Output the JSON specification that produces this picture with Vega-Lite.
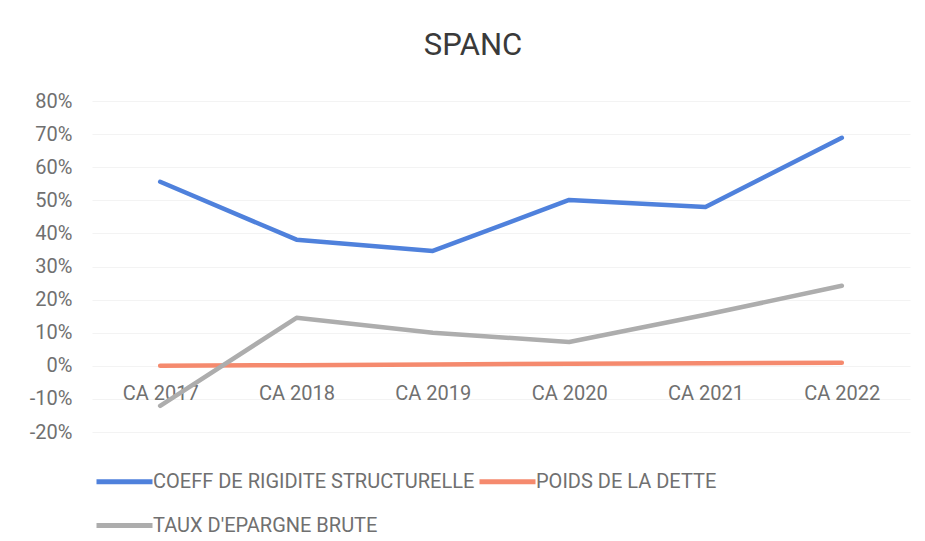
{
  "$schema": "https://vega.github.io/schema/vega-lite/v6.json",
  "width": 818,
  "height": 331,
  "autosize": "none",
  "padding": {"left": 92, "top": 101, "right": 15, "bottom": 109},
  "background": "white",
  "title": {
    "text": "SPANC",
    "font": "Roboto",
    "fontSize": 31,
    "fontWeight": "normal",
    "color": "#3a3a3a",
    "anchor": "middle",
    "dx": -28,
    "offset": 29
  },
  "config": {
    "view": {"stroke": null},
    "font": "Roboto"
  },
  "data": {
    "values": [
      {"annee": "CA 2017", "serie": "COEFF DE RIGIDITE STRUCTURELLE", "valeur": 0.556},
      {"annee": "CA 2018", "serie": "COEFF DE RIGIDITE STRUCTURELLE", "valeur": 0.381},
      {"annee": "CA 2019", "serie": "COEFF DE RIGIDITE STRUCTURELLE", "valeur": 0.347},
      {"annee": "CA 2020", "serie": "COEFF DE RIGIDITE STRUCTURELLE", "valeur": 0.501},
      {"annee": "CA 2021", "serie": "COEFF DE RIGIDITE STRUCTURELLE", "valeur": 0.480},
      {"annee": "CA 2022", "serie": "COEFF DE RIGIDITE STRUCTURELLE", "valeur": 0.689},
      {"annee": "CA 2017", "serie": "POIDS DE LA DETTE", "valeur": 0.000},
      {"annee": "CA 2018", "serie": "POIDS DE LA DETTE", "valeur": 0.002},
      {"annee": "CA 2019", "serie": "POIDS DE LA DETTE", "valeur": 0.004},
      {"annee": "CA 2020", "serie": "POIDS DE LA DETTE", "valeur": 0.006},
      {"annee": "CA 2021", "serie": "POIDS DE LA DETTE", "valeur": 0.008},
      {"annee": "CA 2022", "serie": "POIDS DE LA DETTE", "valeur": 0.009},
      {"annee": "CA 2017", "serie": "TAUX D'EPARGNE BRUTE", "valeur": -0.121},
      {"annee": "CA 2018", "serie": "TAUX D'EPARGNE BRUTE", "valeur": 0.145},
      {"annee": "CA 2019", "serie": "TAUX D'EPARGNE BRUTE", "valeur": 0.100},
      {"annee": "CA 2020", "serie": "TAUX D'EPARGNE BRUTE", "valeur": 0.072},
      {"annee": "CA 2021", "serie": "TAUX D'EPARGNE BRUTE", "valeur": 0.154},
      {"annee": "CA 2022", "serie": "TAUX D'EPARGNE BRUTE", "valeur": 0.242}
    ]
  },
  "mark": {"type": "line", "strokeWidth": 4.5, "strokeCap": "round", "strokeJoin": "round"},
  "encoding": {
    "x": {
      "field": "annee",
      "type": "nominal",
      "sort": null,
      "scale": {"type": "point", "padding": 0.5},
      "axis": {
        "title": null,
        "labelAngle": 0,
        "domain": false,
        "ticks": false,
        "grid": false,
        "offset": -66.2,
        "labelPadding": 18,
        "labelFontSize": 20,
        "labelColor": "#707070",
        "labelFont": "Roboto"
      }
    },
    "y": {
      "field": "valeur",
      "type": "quantitative",
      "scale": {"domain": [-0.2, 0.8], "nice": false, "zero": false},
      "axis": {
        "title": null,
        "values": [-0.2, -0.1, 0, 0.1, 0.2, 0.3, 0.4, 0.5, 0.6, 0.7, 0.8],
        "format": ".0%",
        "labelExpr": "replace(datum.label, '\u2212', '-')",
        "domain": false,
        "ticks": false,
        "grid": true,
        "gridColor": "#f3f3f3",
        "labelPadding": 20,
        "labelFontSize": 20,
        "labelColor": "#707070",
        "labelFont": "Roboto"
      }
    },
    "color": {
      "field": "serie",
      "type": "nominal",
      "scale": {
        "domain": ["COEFF DE RIGIDITE STRUCTURELLE", "POIDS DE LA DETTE", "TAUX D'EPARGNE BRUTE"],
        "range": ["#4f81dc", "#f58a6e", "#adadad"]
      },
      "legend": {
        "title": null,
        "orient": "none",
        "legendX": 2,
        "legendY": 368,
        "direction": "horizontal",
        "columns": 2,
        "symbolType": "M-1,0H4.6",
        "symbolSize": 400,
        "symbolStrokeWidth": 5,
        "labelFontSize": 20,
        "labelColor": "#707070",
        "labelFont": "Roboto",
        "labelOffset": 34,
        "labelLimit": 500,
        "columnPadding": -6,
        "rowPadding": 21
      }
    }
  }
}
